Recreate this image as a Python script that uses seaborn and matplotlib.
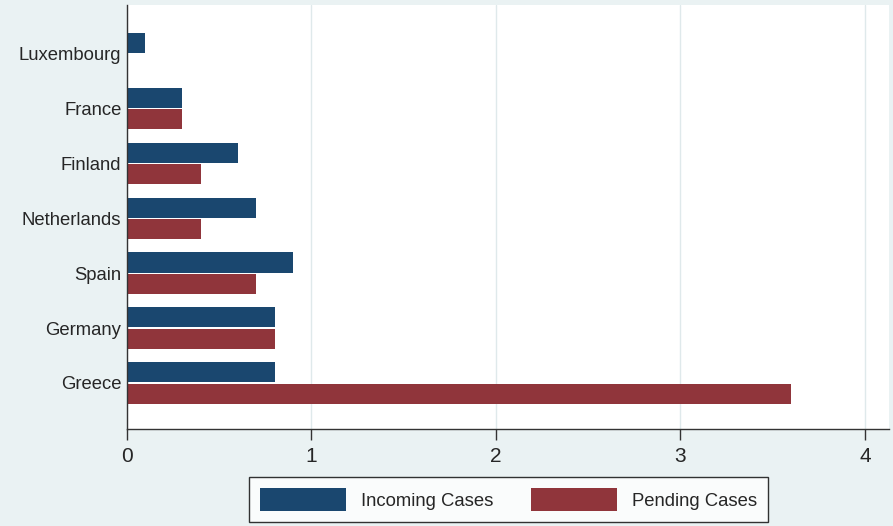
import pandas as pd
import numpy as np
import matplotlib
matplotlib.use('Agg')
import matplotlib.pyplot as plt
import seaborn as sns

# Werte
countries = ['Luxembourg', 'France', 'Finland', 'Netherlands', 'Spain', 'Germany', 'Greece']
incoming = [0.1, 0.3, 0.6, 0.7, 0.9, 0.8, 0.8]
pending = [np.nan, 0.3, 0.4, 0.4, 0.7, 0.8, 3.6]
series = ['Incoming Cases', 'Pending Cases']
x_ticks = [0, 1, 2, 3, 4]

df = pd.DataFrame({
    'country': countries * 2,
    'value': incoming + pending,
    'series': [series[0]] * len(countries) + [series[1]] * len(countries),
})

sns.set_style("white")
plt.rcParams['font.family'] = ['Liberation Sans', 'DejaVu Sans']

bg = '#eaf2f3'
fig = plt.figure(figsize=(8.93, 5.26), dpi=100, facecolor=bg)
ax = fig.add_axes([0.1422, 0.1844, 0.8533, 0.8061])
ax.set_facecolor('white')

sns.barplot(data=df, x='value', y='country', hue='series', order=countries,
            hue_order=series, palette=['#1a476f', '#90353b'], orient='h',
            width=0.78, gap=0.06, edgecolor='none', saturation=1, ax=ax)

ax.set_xlim(0, 4.13)
ax.set_ylim(6.84, -0.89)
ax.set_xticks(x_ticks)
ax.set_xticklabels([str(t) for t in x_ticks], fontsize=15)
ax.tick_params(axis='x', length=8, width=1, color='#333333', pad=5, direction='out', bottom=True)
ax.tick_params(axis='y', length=0, pad=4, labelsize=13.3)
ax.set_xlabel('')
ax.set_ylabel('')

ax.grid(axis='x', color='#dfe9eb', linewidth=1)
ax.set_axisbelow(True)
for s in ['top', 'right']:
    ax.spines[s].set_visible(False)
for s in ['left', 'bottom']:
    ax.spines[s].set_color('#333333')
    ax.spines[s].set_linewidth(1)

handles, labels = ax.get_legend_handles_labels()
ax.get_legend().remove()
leg = fig.legend(handles, labels, loc='center', bbox_to_anchor=(0.5694, 0.0504),
                 ncol=2, fontsize=13.3, frameon=True, fancybox=False,
                 handlelength=4.7, handleheight=1.5, handletextpad=0.8,
                 columnspacing=2.0, borderpad=0.6, borderaxespad=0)
leg.get_frame().set_edgecolor('black')
leg.get_frame().set_linewidth(1)
leg.get_frame().set_facecolor('white')

fig.savefig('out.png', dpi=100, facecolor=bg)
